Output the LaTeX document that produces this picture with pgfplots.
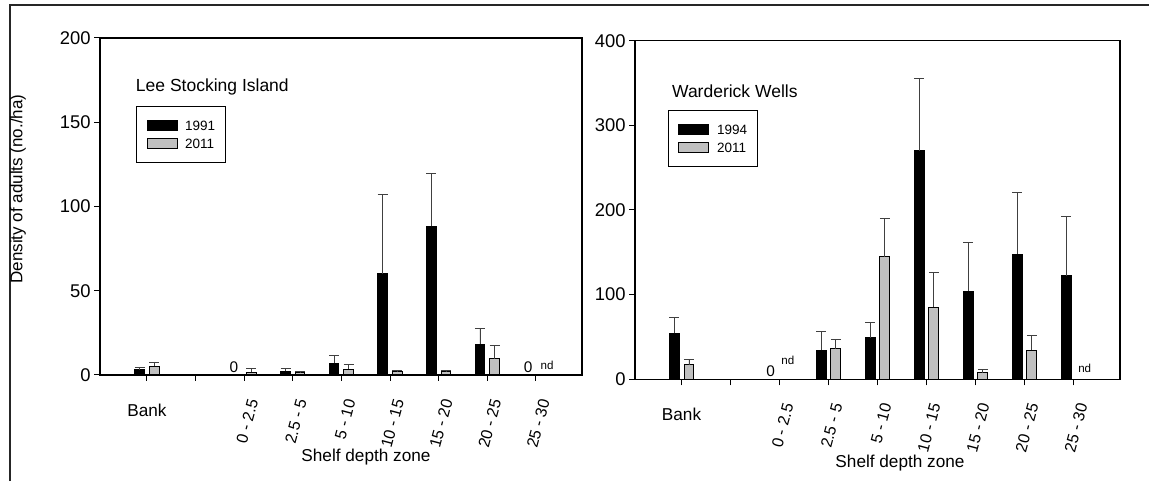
\documentclass[border=0pt]{standalone}
\usepackage{fontspec}
\setmainfont{Liberation Sans}
\usepackage{pgfplots}
\pgfplotsset{compat=1.18}

\newcommand\fs[1]{\fontsize{#1}{#1}\selectfont}
\definecolor{barg}{HTML}{C0C0C0}

\pgfplotsset{
  shelf/.style={
    scale only axis, anchor=south west, clip=false,
    ybar, bar width=0.2,
    axis line style={line width=0.6pt},
    tick pos=left, tick align=outside, major tick length=3pt,
    tick style={black, line width=0.5pt},
    /pgf/number format/assume math mode=true,
    yticklabel style={font=\fs{9.2}, inner xsep=1.5pt},
    xtick={0,...,8},
    xticklabels={{},{},0 - 2.5,2.5 - 5,5 - 10,10 - 15,15 - 20,20 - 25,25 - 30},
    xticklabel style={font=\fs{8}, xshift=4.5pt, yshift=-9pt, rotate=75, anchor=east, inner sep=0pt},
    ymin=0,
    legend cell align=left,
    legend style={anchor=north west, draw=black, line width=0.5pt,
      font=\fs{6.75}, inner xsep=5pt, inner ysep=6pt, row sep=2pt,
      column sep=3.85pt, nodes={inner sep=0pt, text height=6pt, text depth=1pt}},
  },
  ebar/.style={error bars/.cd, y dir=plus, y explicit,
    error bar style={line width=0.4pt, black!75},
    error mark options={rotate=90, line width=0.5pt, black!75, mark size=2.5pt}},
  oldbar/.style={fill=black, draw=black, line width=0.5pt, bar shift=0pt,
    legend image code/.code={\draw[fill=black, draw=black] (0pt,-2.5pt) rectangle (15pt,2.5pt);},
    ebar},
  newbar/.style={fill=barg, draw=black, line width=0.5pt, bar shift=0pt,
    legend image code/.code={\draw[fill=barg, draw=black] (0pt,-2.5pt) rectangle (15pt,2.5pt);},
    ebar},
}

\begin{document}
\begin{tikzpicture}
\path[use as bounding box] (0,0) rectangle (574.5pt,240.5pt);
\draw[line width=0.75pt, black!85] (5pt,0) -- (5pt,238pt) -- (574.5pt,238pt);

% Lee Stocking Island
\begin{axis}[shelf, at={(50pt,53pt)}, width=241pt, height=168.5pt,
  xmin=-0.967, xmax=8.95, ymax=200, ytick={0,50,...,200},
  legend style={at={(0.0747,0.799)}}]
\addplot[oldbar] table[x=x, y=y, y error=e] {
x y e
-0.15 3.0 1.7
2.85 2.2 1.5
3.85 6.9 4.4
4.85 60.2 46.7
5.85 88.2 31.3
6.85 18.3 9.1
};
\addplot[newbar] table[x=x, y=y, y error=e] {
x y e
0.15 5.3 2.0
2.15 1.6 2.0
3.15 1.4 0.4
4.15 3.4 3.1
5.15 2.0 0.6
6.15 2.0 0.6
7.15 9.5 8.2
};
\legend{1991,2011}
\node[anchor=west, font=\fs{8.75}] at (rel axis cs:0.06,0.854) {Lee Stocking Island};
\node[anchor=south, inner sep=0pt, font=\fs{7.7}, yshift=1pt] at (axis cs:1.79,0) {0};
\node[anchor=south, inner sep=0pt, font=\fs{7.7}, yshift=0.85pt] at (axis cs:7.84,0) {0};
\node[anchor=south, inner sep=0pt, font=\fs{5.8}, yshift=2.5pt] at (axis cs:8.23,0) {nd};
\node[font=\fs{8.6}, yshift=-17.5pt] at (axis cs:0,0) {Bank};
\end{axis}

% Warderick Wells
\begin{axis}[shelf, at={(317.5pt,50.85pt)}, width=242.5pt, height=169.3pt,
  xmin=-0.95, xmax=8.95, ymax=400, ytick={0,100,...,400},
  legend style={at={(0.068,0.795)}}]
\addplot[oldbar] table[x=x, y=y, y error=e] {
x y e
-0.15 54.3 18.5
2.85 34.6 21.7
3.85 49.2 18.1
4.85 270 85
5.85 104.3 57.5
6.85 148 72.5
7.85 122.4 69.7
};
\addplot[newbar] table[x=x, y=y, y error=e] {
x y e
0.15 16.9 6.7
3.15 35.8 11.8
4.15 144.9 44.9
5.15 85.4 41
6.15 7.5 3.5
7.15 34.6 17
};
\legend{1994,2011}
\node[anchor=west, font=\fs{8.75}] at (rel axis cs:0.062,0.852) {Warderick Wells};
\node[anchor=south, inner sep=0pt, font=\fs{7.7}, yshift=1.3pt] at (axis cs:1.82,0) {0};
\node[anchor=south, inner sep=0pt, font=\fs{5.8}, yshift=7pt] at (axis cs:2.17,0) {nd};
\node[anchor=south, inner sep=0pt, font=\fs{5.8}, yshift=3pt] at (axis cs:8.23,0) {nd};
\node[font=\fs{8.6}, yshift=-17.35pt] at (axis cs:0,0) {Bank};
\end{axis}

\node[font=\fs{8.5}, rotate=90] at (9pt,146pt) {Density of adults (no./ha)};
\node[font=\fs{8.6}] at (183pt,11.75pt) {Shelf depth zone};
\node[font=\fs{8.6}] at (450pt,9pt) {Shelf depth zone};
\end{tikzpicture}
\end{document}
